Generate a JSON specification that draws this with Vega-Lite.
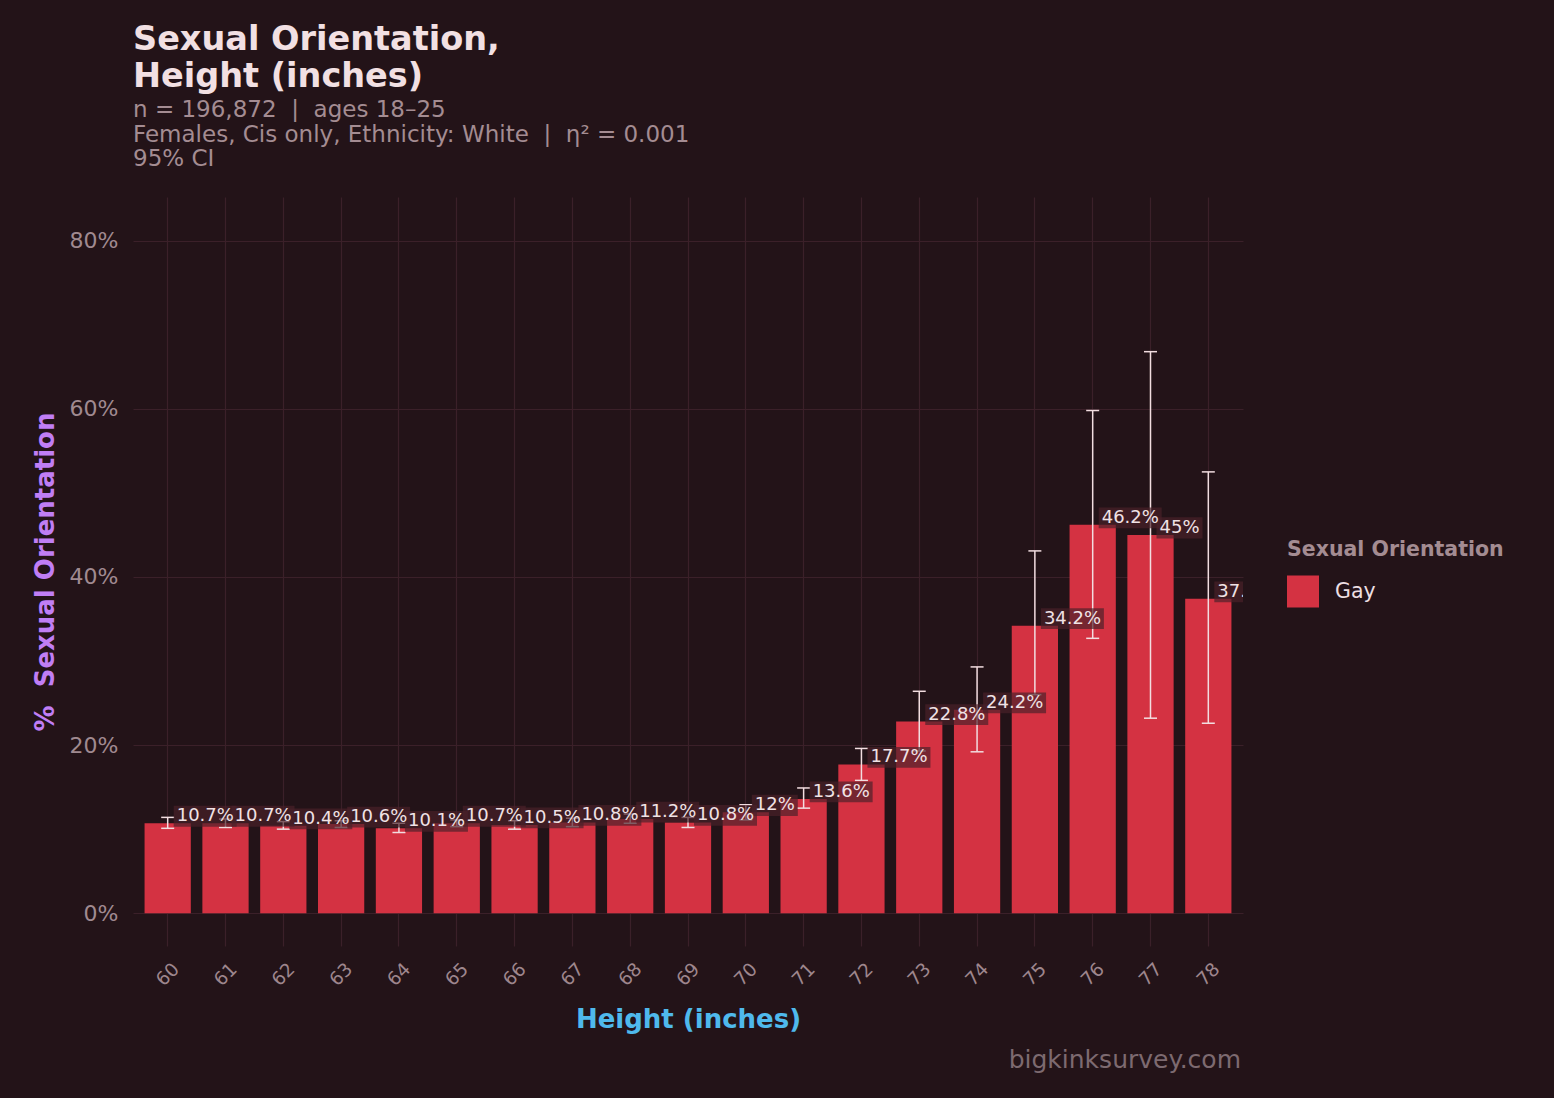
{
  "$schema": "https://vega.github.io/schema/vega-lite/v6.json",
  "width": 1110,
  "height": 749,
  "autosize": {"type": "none"},
  "padding": {"left": 133, "top": 197, "right": 311, "bottom": 152},
  "background": "#231318",
  "config": {
    "font": "DejaVu Sans",
    "view": {"stroke": null},
    "axis": {"domain": false, "ticks": false, "gridColor": "#3b2029", "gridWidth": 1.2}
  },
  "title": {
    "text": ["Sexual Orientation,", "Height (inches)"],
    "subtitle": ["n = 196,872 \u00a0|\u00a0 ages 18–25", "Females, Cis only, Ethnicity: White \u00a0|\u00a0 η² = 0.001", "95% CI"],
    "anchor": "start",
    "frame": "group",
    "font": "DejaVu Sans",
    "fontSize": 33.5,
    "fontWeight": "bold",
    "color": "#f2e0e3",
    "lineHeight": 37,
    "subtitleFont": "DejaVu Sans",
    "subtitleFontSize": 23,
    "subtitleColor": "#a48c92",
    "subtitleLineHeight": 24.5,
    "subtitlePadding": 5,
    "offset": 25
  },
  "datasets": {
    "bars": [
      {"ht": "60", "pct": 10.7, "lo": 10.1, "hi": 11.4, "label": "10.7%", "orientation": "Gay"},
      {"ht": "61", "pct": 10.7, "lo": 10.2, "hi": 11.2, "label": "10.7%", "orientation": "Gay"},
      {"ht": "62", "pct": 10.4, "lo": 10.0, "hi": 10.9, "label": "10.4%", "orientation": "Gay"},
      {"ht": "63", "pct": 10.6, "lo": 10.2, "hi": 11.0, "label": "10.6%", "orientation": "Gay"},
      {"ht": "64", "pct": 10.1, "lo": 9.6, "hi": 10.7, "label": "10.1%", "orientation": "Gay"},
      {"ht": "65", "pct": 10.7, "lo": 10.3, "hi": 11.1, "label": "10.7%", "orientation": "Gay"},
      {"ht": "66", "pct": 10.5, "lo": 10.0, "hi": 11.0, "label": "10.5%", "orientation": "Gay"},
      {"ht": "67", "pct": 10.8, "lo": 10.3, "hi": 11.3, "label": "10.8%", "orientation": "Gay"},
      {"ht": "68", "pct": 11.2, "lo": 10.7, "hi": 11.8, "label": "11.2%", "orientation": "Gay"},
      {"ht": "69", "pct": 10.8, "lo": 10.2, "hi": 11.4, "label": "10.8%", "orientation": "Gay"},
      {"ht": "70", "pct": 12.0, "lo": 11.1, "hi": 12.9, "label": "12%", "orientation": "Gay"},
      {"ht": "71", "pct": 13.6, "lo": 12.5, "hi": 14.9, "label": "13.6%", "orientation": "Gay"},
      {"ht": "72", "pct": 17.7, "lo": 15.8, "hi": 19.6, "label": "17.7%", "orientation": "Gay"},
      {"ht": "73", "pct": 22.8, "lo": 19.3, "hi": 26.4, "label": "22.8%", "orientation": "Gay"},
      {"ht": "74", "pct": 24.2, "lo": 19.2, "hi": 29.3, "label": "24.2%", "orientation": "Gay"},
      {"ht": "75", "pct": 34.2, "lo": 26.0, "hi": 43.1, "label": "34.2%", "orientation": "Gay"},
      {"ht": "76", "pct": 46.2, "lo": 32.7, "hi": 59.8, "label": "46.2%", "orientation": "Gay"},
      {"ht": "77", "pct": 45.0, "lo": 23.2, "hi": 66.8, "label": "45%", "orientation": "Gay"},
      {"ht": "78", "pct": 37.4, "lo": 22.6, "hi": 52.5, "label": "37.4%", "orientation": "Gay"}
    ],
    "caption": [{"t": "bigkinksurvey.com"}]
  },
  "layer": [
    {
      "data": {"name": "bars"},
      "mark": {"type": "bar"},
      "encoding": {
        "x": {
          "field": "ht", "type": "ordinal",
          "scale": {"paddingInner": 0.2, "paddingOuter": 0.2},
          "axis": {
            "title": "Height (inches)",
            "titleFontSize": 26, "titleFontWeight": "bold", "titleColor": "#4fb9ec",
            "titlePadding": 17,
            "labelAngle": -45, "labelAlign": "center", "labelBaseline": "middle",
            "labelPadding": 28, "labelFontSize": 18.5, "labelColor": "#9e868d",
            "grid": true, "bandPosition": 0.5
          }
        },
        "y": {
          "field": "pct", "type": "quantitative",
          "scale": {"domain": [-3.9, 85.2], "nice": false, "zero": false},
          "axis": {
            "title": "%\u00a0 Sexual Orientation",
            "titleFontSize": 26, "titleFontWeight": "bold", "titleColor": "#c07ef5",
            "titlePadding": 11,
            "values": [0, 20, 40, 60, 80],
            "labelExpr": "datum.value + '%'",
            "labelFontSize": 22, "labelColor": "#a08a90", "labelPadding": 15,
            "grid": true
          }
        },
        "color": {
          "field": "orientation", "type": "nominal",
          "scale": {"range": ["#d43242"]},
          "legend": {
            "title": "Sexual Orientation",
            "orient": "none", "legendX": 1154, "legendY": 343,
            "titleFontSize": 20.5, "titleFontWeight": "bold", "titleColor": "#a48c92",
            "titleLimit": 400,
            "titlePadding": 15,
            "symbolType": "square", "symbolSize": 1024, "symbolStrokeWidth": 0, "symbolOpacity": 1,
            "labelFontSize": 20.5, "labelColor": "#ecdfe2", "labelOffset": 16
          }
        }
      }
    },
    {
      "data": {"name": "bars"},
      "mark": {"type": "rule", "color": "#f2dde0", "strokeWidth": 1.5},
      "encoding": {
        "x": {"field": "ht", "type": "ordinal"},
        "y": {"field": "lo", "type": "quantitative"},
        "y2": {"field": "hi"}
      }
    },
    {
      "data": {"name": "bars"},
      "mark": {"type": "tick", "color": "#f2dde0", "size": 13, "thickness": 1.5, "opacity": 1},
      "encoding": {
        "x": {"field": "ht", "type": "ordinal"},
        "y": {"field": "lo", "type": "quantitative"}
      }
    },
    {
      "data": {"name": "bars"},
      "mark": {"type": "tick", "color": "#f2dde0", "size": 13, "thickness": 1.5, "opacity": 1},
      "encoding": {
        "x": {"field": "ht", "type": "ordinal"},
        "y": {"field": "hi", "type": "quantitative"}
      }
    },
    {
      "data": {"name": "bars"},
      "transform": [{"filter": "length(datum.label) == 5"}],
      "mark": {"type": "point", "shape": "M-1,-0.33H1V0.33H-1Z", "size": 3969, "filled": true, "color": "#4a2029", "opacity": 0.68, "xOffset": 37.5, "yOffset": -7, "clip": true},
      "encoding": {
        "x": {"field": "ht", "type": "ordinal"},
        "y": {"field": "pct", "type": "quantitative"}
      }
    },
    {
      "data": {"name": "bars"},
      "transform": [{"filter": "length(datum.label) == 3"}],
      "mark": {"type": "point", "shape": "M-1,-0.46H1V0.46H-1Z", "size": 2116, "filled": true, "color": "#4a2029", "opacity": 0.68, "xOffset": 29, "yOffset": -7, "clip": true},
      "encoding": {
        "x": {"field": "ht", "type": "ordinal"},
        "y": {"field": "pct", "type": "quantitative"}
      }
    },
    {
      "data": {"name": "bars"},
      "mark": {"type": "text", "align": "left", "baseline": "middle", "dx": 9, "dy": -7, "fontSize": 18, "color": "#f0e2e5", "clip": true},
      "encoding": {
        "x": {"field": "ht", "type": "ordinal"},
        "y": {"field": "pct", "type": "quantitative"},
        "text": {"field": "label"}
      }
    },
    {
      "data": {"name": "caption"},
      "mark": {"type": "text", "align": "right", "baseline": "alphabetic", "x": {"expr": "width - 2"}, "y": {"expr": "height + 122"}, "fontSize": 25, "color": "#7d6a70"},
      "encoding": {"text": {"field": "t"}}
    }
  ]
}
